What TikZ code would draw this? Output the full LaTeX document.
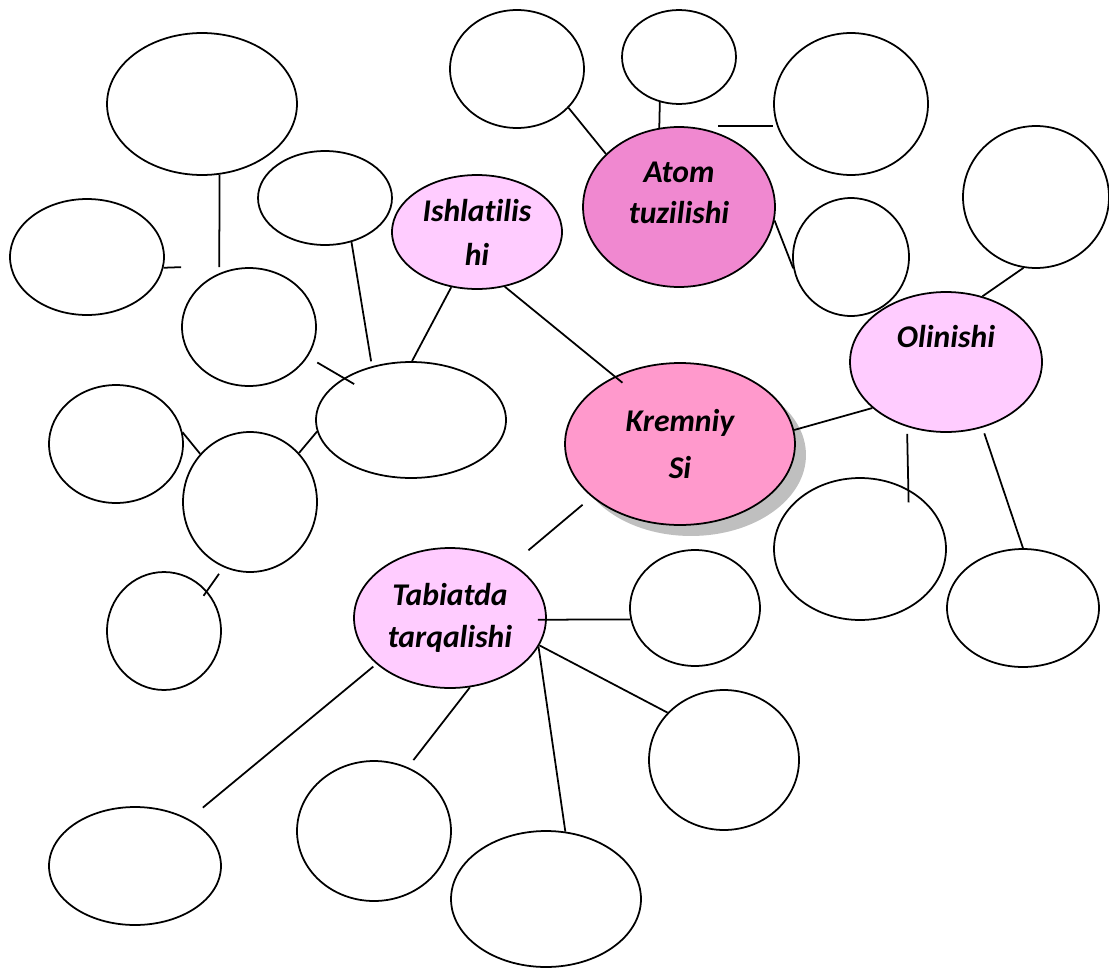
\documentclass[tikz,border=0pt]{standalone}
\usepackage{fontspec}
\setmainfont{Carlito}[Ligatures=NoCommon]
\usepackage{tikz}
\usetikzlibrary{shapes.geometric,shadows}
\definecolor{kremniycol}{HTML}{FF99CC}
\definecolor{atomcol}{HTML}{F088D0}
\definecolor{lightcol}{HTML}{FFCCFF}
\tikzstyle{bubble} = [draw, ellipse, inner sep=0pt, line width=1pt, fill=white]
\tikzstyle{topic} = [bubble, align=center, font=\fontsize{18}{25}\selectfont\bfseries\itshape]
\tikzset{sz/.style 2 args={minimum width=#1cm, minimum height=#2cm}}

\begin{document}
\begin{tikzpicture}[x=0.02cm, y=-0.02cm, line width=1pt]
			\useasboundingbox (0,0) rectangle (1109,967);
			% main topics
			\node[topic, sz={4.6}{3.24}, fill=kremniycol, font=\fontsize{18}{27}\selectfont\bfseries\itshape,
			  drop shadow={shadow xshift=0.22cm, shadow yshift=-0.22cm, fill=black!25, opacity=1}] (kr) at (680,444) {Kremniy\\Si};
			\node[topic, sz={3.84}{3.2}, fill=atomcol, font=\fontsize{18}{23}\selectfont\bfseries\itshape] (atom) at (679,207) {Atom\\tuzilishi\\[-7pt]\mbox{}};
			\node[topic, sz={3.4}{2.28}, fill=lightcol] (ish) at (477,232) {Ishlatilis\\hi};
			\node[topic, sz={3.84}{2.8}, fill=lightcol] (olin) at (946,362) {Olinishi\\[4pt]\mbox{}};
			\node[topic, sz={3.84}{2.8}, fill=lightcol, font=\fontsize{18}{24}\selectfont\bfseries\itshape] (tab) at (450,618) {Tabiatda\\tarqalishi};
			% empty bubbles
			\node[bubble, sz={3.8}{2.84}] (e1) at (202,104) {};
			\node[bubble, sz={3.08}{2.32}] (e2) at (87,257) {};
			\node[bubble, sz={2.68}{1.88}] (e3) at (325,198) {};
			\node[bubble, sz={2.68}{2.36}] (e5) at (517,69) {};
			\node[bubble, sz={2.28}{1.88}] (e6) at (679,57) {};
			\node[bubble, sz={3.08}{2.84}] (e7) at (851,104) {};
			\node[bubble, sz={2.32}{2.36}] (e9) at (851,257) {};
			\node[bubble, sz={2.92}{2.84}] (e10) at (1036,197) {};
			\node[bubble, sz={2.68}{2.36}] (e12) at (249,327) {};
			\node[bubble, sz={3.8}{2.32}] (e13) at (411,420) {};
			\node[bubble, sz={2.68}{2.36}] (e14) at (116,444) {};
			\node[bubble, sz={2.68}{2.8}] (e15) at (250,502) {};
			\node[bubble, sz={2.28}{2.36}] (e16) at (164,631) {};
			\node[bubble, sz={3.44}{2.84}] (e18) at (860,549) {};
			\node[bubble, sz={3.04}{2.36}] (e19) at (1023,608) {};
			\node[bubble, sz={2.6}{2.32}] (e20) at (695,608) {};
			\node[bubble, sz={3.0}{2.8}] (e22) at (724,760) {};
			\node[bubble, sz={3.44}{2.36}] (e23) at (135,866) {};
			\node[bubble, sz={3.08}{2.8}] (e24) at (374,831) {};
			\node[bubble, sz={3.8}{2.72}] (e25) at (546,899) {};
			% connectors
			\draw[shorten >=0.12cm] (e1.-76) -- (e12.119);
			\draw (e2.-8) -- (e12.west |- e12.north);
			\draw[shorten >=0.1cm] (e3.-59) -- (e13.126);
			\draw[shorten <=0.22cm, shorten >=-0.24cm] (e12.-27) -- (e13.148);
			\draw (ish.245) -- (e13.89);
			\draw[shorten >=-0.2cm] (ish.-63) -- (kr.134);
			\draw (e15.45) -- (e13.187);
			\draw (e14.10) -- (e15.136);
			\draw[shorten <=0.16cm, shorten >=-0.12cm] (e15.248) -- (e16.43);
			\draw (e5.-37) -- (atom.144);
			\draw (e6.247) -- (atom.104);
			\draw ([xshift=0.78cm]atom.north) -- (e7.west |- atom.north);
			\draw (atom.-8) -- (e9.191);
			\draw (olin.61) -- (e10.260);
			\draw (kr.7) -- (olin.212);
			\draw[shorten <=0.14cm, shorten >=-0.26cm] (olin.239) -- (e18.51);
			\draw[shorten <=0.12cm] (olin.-61) -- (e19.north);
			\draw[shorten <=0.24cm, shorten >=0.42cm] (kr.211) -- (tab.41);
			\draw[shorten <=-0.18cm] (tab.-1) -- (e20.190);
			\draw (tab.-17) -- (e22.140);
			\draw (tab.-18) -- (e25.74);
			\draw[shorten >=0.18cm] (tab.-74) -- (e24.62);
			\draw[shorten <=0.08cm, shorten >=0.36cm] (tab.212) -- (e23.41);
		\end{tikzpicture}
\end{document}
